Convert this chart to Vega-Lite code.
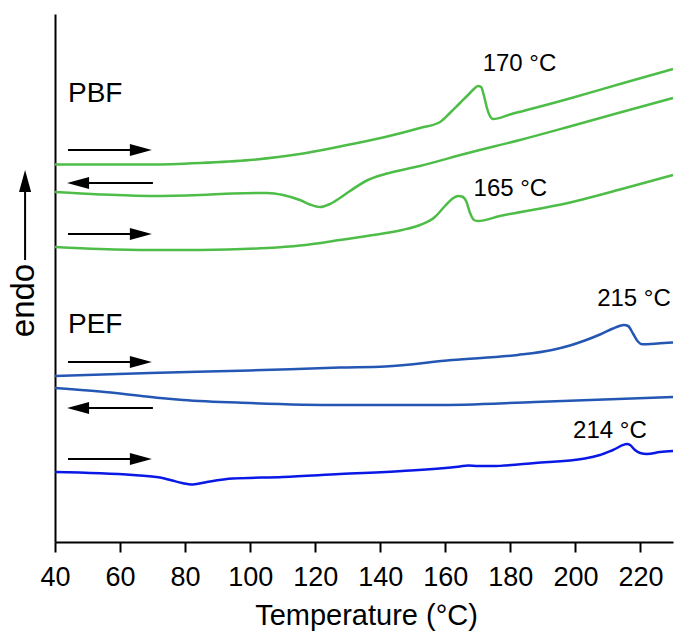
{
  "$schema": "https://vega.github.io/schema/vega-lite/v6.json",
  "width": 618,
  "height": 528,
  "autosize": {"type": "none"},
  "padding": {"left": 55, "top": 14, "right": 2, "bottom": 92},
  "background": "white",
  "config": {
    "view": {"stroke": null},
    "font": "Liberation Sans",
    "axis": {"labelFont": "Liberation Sans", "titleFont": "Liberation Sans", "labelColor": "black", "titleColor": "black", "titleFontWeight": "normal", "domainColor": "black", "tickColor": "black", "grid": false}
  },
  "datasets": {
    "curves": [
      {"s": "PBF1", "T": 40, "v": 377.5}, {"s": "PBF1", "T": 53.8, "v": 377.5}, {"s": "PBF1", "T": 69.2, "v": 377.5}, {"s": "PBF1", "T": 84.6, "v": 379}, {"s": "PBF1", "T": 99.95, "v": 382}, {"s": "PBF1", "T": 115.3, "v": 388}, {"s": "PBF1", "T": 127.6, "v": 395.5}, {"s": "PBF1", "T": 141.5, "v": 405}, {"s": "PBF1", "T": 152.2, "v": 414}, {"s": "PBF1", "T": 158.4, "v": 420}, {"s": "PBF1", "T": 161.4, "v": 429}, {"s": "PBF1", "T": 164.5, "v": 439}, {"s": "PBF1", "T": 167.6, "v": 449}, {"s": "PBF1", "T": 169.1, "v": 454}, {"s": "PBF1", "T": 170.05, "v": 456}, {"s": "PBF1", "T": 171.0, "v": 455}, {"s": "PBF1", "T": 171.9, "v": 446}, {"s": "PBF1", "T": 172.8, "v": 434}, {"s": "PBF1", "T": 173.7, "v": 426}, {"s": "PBF1", "T": 174.7, "v": 423}, {"s": "PBF1", "T": 179.9, "v": 427.5}, {"s": "PBF1", "T": 197.7, "v": 443}, {"s": "PBF1", "T": 213.7, "v": 458}, {"s": "PBF1", "T": 230, "v": 473},
      {"s": "PBF2", "T": 40, "v": 350}, {"s": "PBF2", "T": 53.8, "v": 347.5}, {"s": "PBF2", "T": 69.2, "v": 346}, {"s": "PBF2", "T": 84.6, "v": 347}, {"s": "PBF2", "T": 94.7, "v": 348.5}, {"s": "PBF2", "T": 105.2, "v": 349}, {"s": "PBF2", "T": 110.1, "v": 347}, {"s": "PBF2", "T": 115.3, "v": 342}, {"s": "PBF2", "T": 118.4, "v": 337.5}, {"s": "PBF2", "T": 121.5, "v": 335}, {"s": "PBF2", "T": 124.55, "v": 338}, {"s": "PBF2", "T": 127.6, "v": 344}, {"s": "PBF2", "T": 130.7, "v": 351}, {"s": "PBF2", "T": 136.2, "v": 362}, {"s": "PBF2", "T": 141.5, "v": 368}, {"s": "PBF2", "T": 152.2, "v": 376}, {"s": "PBF2", "T": 167.0, "v": 389}, {"s": "PBF2", "T": 182.96, "v": 402}, {"s": "PBF2", "T": 197.7, "v": 415}, {"s": "PBF2", "T": 213.7, "v": 429.5}, {"s": "PBF2", "T": 230, "v": 444},
      {"s": "PBF3", "T": 40, "v": 295}, {"s": "PBF3", "T": 53.8, "v": 293}, {"s": "PBF3", "T": 69.2, "v": 292}, {"s": "PBF3", "T": 84.6, "v": 292}, {"s": "PBF3", "T": 105.2, "v": 294}, {"s": "PBF3", "T": 115.3, "v": 296.5}, {"s": "PBF3", "T": 127.6, "v": 302}, {"s": "PBF3", "T": 136.8, "v": 306.5}, {"s": "PBF3", "T": 146.7, "v": 312}, {"s": "PBF3", "T": 152.2, "v": 317}, {"s": "PBF3", "T": 156.8, "v": 325}, {"s": "PBF3", "T": 159.9, "v": 336}, {"s": "PBF3", "T": 162.05, "v": 343}, {"s": "PBF3", "T": 163.9, "v": 346}, {"s": "PBF3", "T": 165.1, "v": 345.5}, {"s": "PBF3", "T": 166.4, "v": 341}, {"s": "PBF3", "T": 167.6, "v": 329}, {"s": "PBF3", "T": 168.8, "v": 322}, {"s": "PBF3", "T": 170.05, "v": 321}, {"s": "PBF3", "T": 176.8, "v": 326}, {"s": "PBF3", "T": 197.7, "v": 339}, {"s": "PBF3", "T": 213.7, "v": 352.5}, {"s": "PBF3", "T": 230, "v": 367},
      {"s": "PEF1", "T": 40, "v": 166}, {"s": "PEF1", "T": 69.2, "v": 169}, {"s": "PEF1", "T": 99.95, "v": 171.5}, {"s": "PEF1", "T": 127.6, "v": 174.5}, {"s": "PEF1", "T": 141.5, "v": 175.5}, {"s": "PEF1", "T": 162.05, "v": 182}, {"s": "PEF1", "T": 182.3, "v": 187}, {"s": "PEF1", "T": 192.8, "v": 192}, {"s": "PEF1", "T": 198.3, "v": 196.5}, {"s": "PEF1", "T": 202.9, "v": 201.5}, {"s": "PEF1", "T": 207.55, "v": 207.5}, {"s": "PEF1", "T": 211.55, "v": 213.5}, {"s": "PEF1", "T": 213.5, "v": 216}, {"s": "PEF1", "T": 214.9, "v": 217}, {"s": "PEF1", "T": 216.2, "v": 216}, {"s": "PEF1", "T": 217.7, "v": 208.5}, {"s": "PEF1", "T": 219.2, "v": 200.5}, {"s": "PEF1", "T": 220.5, "v": 197.7}, {"s": "PEF1", "T": 226.0, "v": 198.7}, {"s": "PEF1", "T": 230, "v": 199.5},
      {"s": "PEF2", "T": 40, "v": 154}, {"s": "PEF2", "T": 53.8, "v": 150.5}, {"s": "PEF2", "T": 64.0, "v": 147}, {"s": "PEF2", "T": 72.3, "v": 144}, {"s": "PEF2", "T": 79.35, "v": 142}, {"s": "PEF2", "T": 99.95, "v": 139}, {"s": "PEF2", "T": 127.6, "v": 137}, {"s": "PEF2", "T": 156.8, "v": 137}, {"s": "PEF2", "T": 187.6, "v": 140}, {"s": "PEF2", "T": 230, "v": 145},
      {"s": "PEF3", "T": 40, "v": 70}, {"s": "PEF3", "T": 64.0, "v": 67}, {"s": "PEF3", "T": 72.3, "v": 64.5}, {"s": "PEF3", "T": 76.0, "v": 61.5}, {"s": "PEF3", "T": 79.05, "v": 59}, {"s": "PEF3", "T": 82.4, "v": 57.5}, {"s": "PEF3", "T": 86.7, "v": 60}, {"s": "PEF3", "T": 94.7, "v": 63.5}, {"s": "PEF3", "T": 110.1, "v": 65}, {"s": "PEF3", "T": 127.6, "v": 68}, {"s": "PEF3", "T": 146.7, "v": 71}, {"s": "PEF3", "T": 164.5, "v": 75.5}, {"s": "PEF3", "T": 167.0, "v": 76.5}, {"s": "PEF3", "T": 170.05, "v": 76}, {"s": "PEF3", "T": 174.35, "v": 76}, {"s": "PEF3", "T": 187.6, "v": 79}, {"s": "PEF3", "T": 202.9, "v": 83.5}, {"s": "PEF3", "T": 207.55, "v": 87}, {"s": "PEF3", "T": 211.55, "v": 92}, {"s": "PEF3", "T": 215.9, "v": 98}, {"s": "PEF3", "T": 216.8, "v": 97}, {"s": "PEF3", "T": 218.3, "v": 92}, {"s": "PEF3", "T": 219.9, "v": 89}, {"s": "PEF3", "T": 222.0, "v": 88}, {"s": "PEF3", "T": 226.0, "v": 90}, {"s": "PEF3", "T": 230, "v": 91}
    ],
    "arrows": [
      {"dir": "right", "x1": 44.0, "x2": 64.0, "xh": 66.4, "y1": 392, "y2": 392, "yh": 392},
      {"dir": "left", "x1": 70.1, "x2": 50.0, "xh": 47.1, "y1": 359, "y2": 359, "yh": 359},
      {"dir": "right", "x1": 44.0, "x2": 64.0, "xh": 66.4, "y1": 308, "y2": 308, "yh": 308},
      {"dir": "right", "x1": 44.0, "x2": 64.0, "xh": 66.4, "y1": 180, "y2": 180, "yh": 180},
      {"dir": "left", "x1": 70.1, "x2": 50.0, "xh": 47.1, "y1": 134, "y2": 134, "yh": 134},
      {"dir": "right", "x1": 44.0, "x2": 64.0, "xh": 66.4, "y1": 83, "y2": 83, "yh": 83},
      {"dir": "up", "x1": 30.8, "x2": 30.8, "xh": 30.8, "y1": 282, "y2": 352, "yh": 361}
    ],
    "labels": [
      {"t": "PBF", "x": 44.0, "y": 440, "k": "big"},
      {"t": "PEF", "x": 44.0, "y": 209, "k": "big"},
      {"t": "170 °C", "x": 182.8, "y": 471, "k": "ann"},
      {"t": "165 °C", "x": 180.0, "y": 346, "k": "ann"},
      {"t": "215 °C", "x": 218.0, "y": 236, "k": "ann"},
      {"t": "214 °C", "x": 210.6, "y": 104, "k": "ann"}
    ]
  },
  "layer": [
    {
      "data": {"name": "curves"},
      "mark": {"type": "line", "strokeWidth": 2.5, "interpolate": "monotone"},
      "encoding": {
        "x": {"field": "T", "type": "quantitative",
          "scale": {"domain": [40, 230], "nice": false, "zero": false},
          "axis": {
            "values": [40, 50, 60, 70, 80, 90, 100, 110, 120, 130, 140, 150, 160, 170, 180, 190, 200, 210, 220, 230],
            "labelExpr": "datum.value % 20 === 0 ? datum.label : ''",
            "tickSize": {"condition": {"test": "datum.value % 20 === 0", "value": 10}, "value": 6},
            "tickWidth": 2, "domainWidth": 2,
            "labelFontSize": 27, "labelBaseline": "alphabetic", "labelPadding": 33, "labelFlush": false, "labelOverlap": false,
            "title": "Temperature (°C)", "titleFontSize": 29, "titleBaseline": "alphabetic", "titleX": 311, "titleY": 82
          }},
        "y": {"field": "v", "type": "quantitative",
          "scale": {"domain": [0, 528], "nice": false, "zero": false},
          "axis": {"ticks": false, "labels": false, "domainWidth": 2, "title": "endo", "titleFontSize": 33, "titleAngle": 270, "titleBaseline": "alphabetic", "titleAlign": "center", "titleX": -22, "titleY": 286}},
        "color": {"field": "s", "type": "nominal", "legend": null,
          "scale": {"domain": ["PBF1", "PBF2", "PBF3", "PEF1", "PEF2", "PEF3"], "range": ["#4dbd48", "#4dbd48", "#4dbd48", "#2456b4", "#2456b4", "#0a18e6"]}}
      }
    },
    {
      "data": {"name": "arrows"},
      "mark": {"type": "rule", "strokeWidth": 2, "color": "black"},
      "encoding": {
        "x": {"field": "x1", "type": "quantitative"},
        "x2": {"field": "x2"},
        "y": {"field": "y1", "type": "quantitative"},
        "y2": {"field": "y2"}
      }
    },
    {
      "data": {"name": "arrows"},
      "mark": {"type": "point", "filled": true, "color": "black", "opacity": 1, "size": 484, "strokeWidth": 0},
      "encoding": {
        "x": {"field": "xh", "type": "quantitative"},
        "y": {"field": "yh", "type": "quantitative"},
        "shape": {"field": "dir", "type": "nominal", "legend": null,
          "scale": {"domain": ["right", "left", "up"], "range": ["M-1,-0.55L1,0L-1,0.55Z", "M1,-0.55L-1,0L1,0.55Z", "M-0.55,1L0,-1L0.55,1Z"]}}
      }
    },
    {
      "data": {"name": "labels"},
      "transform": [{"filter": "datum.k === 'big'"}],
      "mark": {"type": "text", "font": "Liberation Sans", "fontSize": 28, "align": "left", "baseline": "alphabetic", "color": "black"},
      "encoding": {
        "x": {"field": "x", "type": "quantitative"},
        "y": {"field": "y", "type": "quantitative"},
        "text": {"field": "t"}
      }
    },
    {
      "data": {"name": "labels"},
      "transform": [{"filter": "datum.k === 'ann'"}],
      "mark": {"type": "text", "font": "Liberation Sans", "fontSize": 24, "align": "center", "baseline": "alphabetic", "color": "black"},
      "encoding": {
        "x": {"field": "x", "type": "quantitative"},
        "y": {"field": "y", "type": "quantitative"},
        "text": {"field": "t"}
      }
    }
  ]
}
